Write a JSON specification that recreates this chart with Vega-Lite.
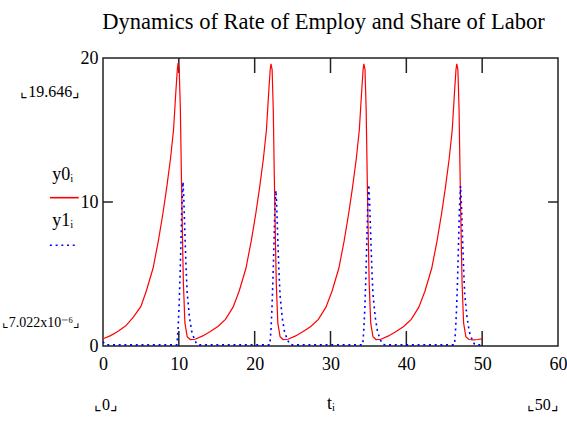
{
  "$schema": "https://vega.github.io/schema/vega-lite/v6.json",
  "autosize": "none",
  "width": 455,
  "height": 288,
  "padding": {"left": 103, "top": 58, "right": 9, "bottom": 75},
  "background": "white",
  "view": {"stroke": "#222", "strokeWidth": 1.5},
  "title": {"text": "Dynamics of Rate of Employ and Share of Labor", "font": "Liberation Serif", "fontSize": 22.5, "fontWeight": "normal", "color": "#000", "anchor": "middle", "dx": -7, "offset": 16},
  "datasets": {
    "y0": [
      {"t":0,"v":0.5},{"t":1,"v":0.72},{"t":2,"v":1.02},{"t":3,"v":1.4},{"t":4,"v":2.0},{"t":5,"v":2.75},{"t":5.7,"v":3.8},{"t":6.6,"v":5.4},{"t":7.3,"v":7.3},{"t":7.9,"v":9.2},{"t":8.4,"v":11.0},{"t":8.9,"v":13.0},{"t":9.3,"v":15.0},{"t":9.6,"v":17.6},{"t":9.8,"v":19.2},{"t":9.9,"v":19.646},{"t":10.05,"v":19.2},{"t":10.2,"v":16.5},{"t":10.35,"v":11.5},{"t":10.5,"v":7.0},{"t":10.6,"v":4.4},{"t":10.8,"v":1.6},{"t":11.1,"v":0.65},{"t":11.5,"v":0.45},
      {"t":12.15,"v":0.47},{"t":13.15,"v":0.7},{"t":14.15,"v":1.0},{"t":15.15,"v":1.35},{"t":16.15,"v":1.85},{"t":17.15,"v":2.7},{"t":17.95,"v":3.8},{"t":18.85,"v":5.4},{"t":19.55,"v":7.3},{"t":20.15,"v":9.2},{"t":20.65,"v":11.0},{"t":21.15,"v":13.0},{"t":21.55,"v":15.0},{"t":21.85,"v":17.6},{"t":22.05,"v":19.2},{"t":22.15,"v":19.6},{"t":22.3,"v":19.2},{"t":22.45,"v":16.5},{"t":22.6,"v":11.5},{"t":22.75,"v":7.0},{"t":22.85,"v":4.4},{"t":23.05,"v":1.6},{"t":23.35,"v":0.65},{"t":23.75,"v":0.45},
      {"t":24.4,"v":0.47},{"t":25.4,"v":0.7},{"t":26.4,"v":1.0},{"t":27.4,"v":1.35},{"t":28.4,"v":1.85},{"t":29.4,"v":2.7},{"t":30.2,"v":3.8},{"t":31.1,"v":5.4},{"t":31.8,"v":7.3},{"t":32.4,"v":9.2},{"t":32.9,"v":11.0},{"t":33.4,"v":13.0},{"t":33.8,"v":15.0},{"t":34.1,"v":17.6},{"t":34.3,"v":19.2},{"t":34.4,"v":19.6},{"t":34.55,"v":19.2},{"t":34.7,"v":16.5},{"t":34.85,"v":11.5},{"t":35.0,"v":7.0},{"t":35.1,"v":4.4},{"t":35.3,"v":1.6},{"t":35.6,"v":0.65},{"t":36.0,"v":0.45},
      {"t":36.65,"v":0.47},{"t":37.65,"v":0.7},{"t":38.65,"v":1.0},{"t":39.65,"v":1.35},{"t":40.65,"v":1.85},{"t":41.65,"v":2.7},{"t":42.45,"v":3.8},{"t":43.35,"v":5.4},{"t":44.05,"v":7.3},{"t":44.65,"v":9.2},{"t":45.15,"v":11.0},{"t":45.65,"v":13.0},{"t":46.05,"v":15.0},{"t":46.35,"v":17.6},{"t":46.55,"v":19.2},{"t":46.65,"v":19.6},{"t":46.8,"v":19.2},{"t":46.95,"v":16.5},{"t":47.1,"v":11.5},{"t":47.25,"v":7.0},{"t":47.35,"v":4.4},{"t":47.55,"v":1.6},{"t":47.85,"v":0.65},{"t":48.25,"v":0.45},{"t":48.8,"v":0.42},{"t":49.4,"v":0.45},{"t":50,"v":0.5}
    ],
    "y1": [
      {"t":0,"v":0.3},{"t":0.2,"v":0.15},{"t":0.4,"v":0.08},{"t":9.75,"v":0.08},{"t":9.9,"v":1.2},{"t":10.03,"v":2.7},{"t":10.16,"v":4.8},{"t":10.29,"v":7.4},{"t":10.4,"v":9.7},{"t":10.55,"v":11.4},{"t":10.65,"v":10.3},{"t":10.8,"v":7.8},{"t":10.95,"v":5.5},{"t":11.1,"v":3.7},{"t":11.4,"v":2.0},{"t":11.7,"v":1.0},{"t":12.1,"v":0.4},{"t":12.4,"v":0.12},{"t":12.7,"v":0.08},
      {"t":22.0,"v":0.08},{"t":22.15,"v":1.1},{"t":22.28,"v":2.6},{"t":22.41,"v":4.6},{"t":22.54,"v":7.0},{"t":22.65,"v":9.2},{"t":22.8,"v":10.8},{"t":22.9,"v":9.8},{"t":23.05,"v":7.4},{"t":23.2,"v":5.2},{"t":23.35,"v":3.5},{"t":23.65,"v":1.9},{"t":23.95,"v":0.95},{"t":24.35,"v":0.4},{"t":24.65,"v":0.12},{"t":24.95,"v":0.08},
      {"t":34.25,"v":0.08},{"t":34.4,"v":1.2},{"t":34.53,"v":2.65},{"t":34.66,"v":4.7},{"t":34.79,"v":7.3},{"t":34.9,"v":9.5},{"t":35.05,"v":11.2},{"t":35.15,"v":10.1},{"t":35.3,"v":7.7},{"t":35.45,"v":5.4},{"t":35.6,"v":3.6},{"t":35.9,"v":2.0},{"t":36.2,"v":1.0},{"t":36.6,"v":0.4},{"t":36.9,"v":0.12},{"t":37.2,"v":0.08},
      {"t":46.35,"v":0.08},{"t":46.5,"v":1.2},{"t":46.63,"v":2.65},{"t":46.76,"v":4.7},{"t":46.89,"v":7.3},{"t":47.0,"v":9.5},{"t":47.15,"v":11.1},{"t":47.25,"v":10.0},{"t":47.4,"v":7.7},{"t":47.55,"v":5.4},{"t":47.7,"v":3.6},{"t":48.0,"v":2.0},{"t":48.3,"v":1.0},{"t":48.7,"v":0.4},{"t":49.0,"v":0.12},{"t":49.3,"v":0.08},{"t":50,"v":0.08}
    ],
    "ticks": [{"t":10},{"t":20},{"t":30},{"t":40},{"t":50}]
  },
  "layer": [
    {
      "data": {"name": "ticks"},
      "mark": {"type": "rule", "color": "#222", "strokeWidth": 1.5},
      "encoding": {
        "x": {"field": "t", "type": "quantitative", "scale": {"domain": [0, 60], "nice": false, "zero": false},
          "axis": {"values": [0,10,20,30,40,50,60], "labelFlush": false, "ticks": false, "domain": false, "grid": false, "labelFont": "Liberation Serif", "labelFontSize": 18, "labelColor": "#000", "labelPadding": 9, "title": "tᵢ", "titleFont": "Liberation Serif", "titleFontSize": 18, "titleFontWeight": "normal", "titleColor": "#000", "titlePadding": 21}},
        "y": {"datum": 0, "type": "quantitative", "scale": {"domain": [0, 20], "nice": false},
          "axis": {"values": [0,10,20], "ticks": false, "domain": false, "grid": false, "labelFont": "Liberation Serif", "labelFontSize": 18, "labelColor": "#000", "labelPadding": 5, "title": null}},
        "y2": {"datum": 1.04}
      }
    },
    {
      "data": {"name": "ticks"},
      "mark": {"type": "rule", "color": "#222", "strokeWidth": 1.5},
      "encoding": {
        "x": {"field": "t", "type": "quantitative"},
        "y": {"datum": 18.96, "type": "quantitative"},
        "y2": {"datum": 20}
      }
    },
    {
      "data": {"values": [{"v": 10}]},
      "mark": {"type": "rule", "color": "#222", "strokeWidth": 1.5},
      "encoding": {"y": {"field": "v", "type": "quantitative"}, "x": {"datum": 0, "type": "quantitative"}, "x2": {"datum": 1.3}}
    },
    {
      "data": {"values": [{"v": 10}]},
      "mark": {"type": "rule", "color": "#222", "strokeWidth": 1.5},
      "encoding": {"y": {"field": "v", "type": "quantitative"}, "x": {"datum": 58.7, "type": "quantitative"}, "x2": {"datum": 60}}
    },
    {
      "data": {"name": "y0"},
      "mark": {"type": "line", "color": "#ff0000", "strokeWidth": 1.2},
      "encoding": {"x": {"field": "t", "type": "quantitative"}, "y": {"field": "v", "type": "quantitative"}}
    },
    {
      "data": {"name": "y1"},
      "mark": {"type": "line", "color": "#0000ff", "strokeWidth": 1.6, "strokeDash": [2, 3.7]},
      "encoding": {"x": {"field": "t", "type": "quantitative"}, "y": {"field": "v", "type": "quantitative"}}
    },
    {
      "data": {"values": [{"x": -7.0}, {"x": -3.2}]},
      "mark": {"type": "line", "color": "#ff0000", "strokeWidth": 1.6, "clip": false},
      "encoding": {"x": {"field": "x", "type": "quantitative"}, "y": {"datum": 10.3, "type": "quantitative"}}
    },
    {
      "data": {"values": [{"x": -7.0}, {"x": -3.4}]},
      "mark": {"type": "line", "color": "#0000ff", "strokeWidth": 1.6, "strokeDash": [2, 3.7], "clip": false},
      "encoding": {"x": {"field": "x", "type": "quantitative"}, "y": {"datum": 7.0, "type": "quantitative"}}
    },
    {
      "data": {"values": [{"label": "y0ᵢ"}]},
      "mark": {"type": "text", "font": "Liberation Serif", "fontSize": 18, "align": "left", "baseline": "middle", "color": "#000"},
      "encoding": {"text": {"field": "label"}, "x": {"datum": -6.7, "type": "quantitative"}, "y": {"datum": 11.9, "type": "quantitative"}}
    },
    {
      "data": {"values": [{"label": "y1ᵢ"}]},
      "mark": {"type": "text", "font": "Liberation Serif", "fontSize": 18, "align": "left", "baseline": "middle", "color": "#000"},
      "encoding": {"text": {"field": "label"}, "x": {"datum": -6.7, "type": "quantitative"}, "y": {"datum": 8.7, "type": "quantitative"}}
    },
    {
      "data": {"values": [{"label": "⌞19.646⌟"}]},
      "mark": {"type": "text", "font": "Liberation Serif", "fontSize": 16, "align": "right", "baseline": "middle", "color": "#000"},
      "encoding": {"text": {"field": "label"}, "x": {"datum": -3.0, "type": "quantitative"}, "y": {"datum": 17.65, "type": "quantitative"}}
    },
    {
      "data": {"values": [{"label": "⌞7.022x10⁻⁶⌟"}]},
      "mark": {"type": "text", "font": "Liberation Serif", "fontSize": 14, "align": "right", "baseline": "middle", "color": "#000"},
      "encoding": {"text": {"field": "label"}, "x": {"datum": -3.0, "type": "quantitative"}, "y": {"datum": 1.6, "type": "quantitative"}}
    },
    {
      "data": {"values": [{"label": "⌞0⌟"}]},
      "mark": {"type": "text", "font": "Liberation Serif", "fontSize": 16, "align": "center", "baseline": "middle", "color": "#000"},
      "encoding": {"text": {"field": "label"}, "x": {"datum": 0.4, "type": "quantitative"}, "y": {"datum": -4.1, "type": "quantitative"}}
    },
    {
      "data": {"values": [{"label": "⌞50⌟"}]},
      "mark": {"type": "text", "font": "Liberation Serif", "fontSize": 16, "align": "center", "baseline": "middle", "color": "#000"},
      "encoding": {"text": {"field": "label"}, "x": {"datum": 58.0, "type": "quantitative"}, "y": {"datum": -4.1, "type": "quantitative"}}
    }
  ]
}
